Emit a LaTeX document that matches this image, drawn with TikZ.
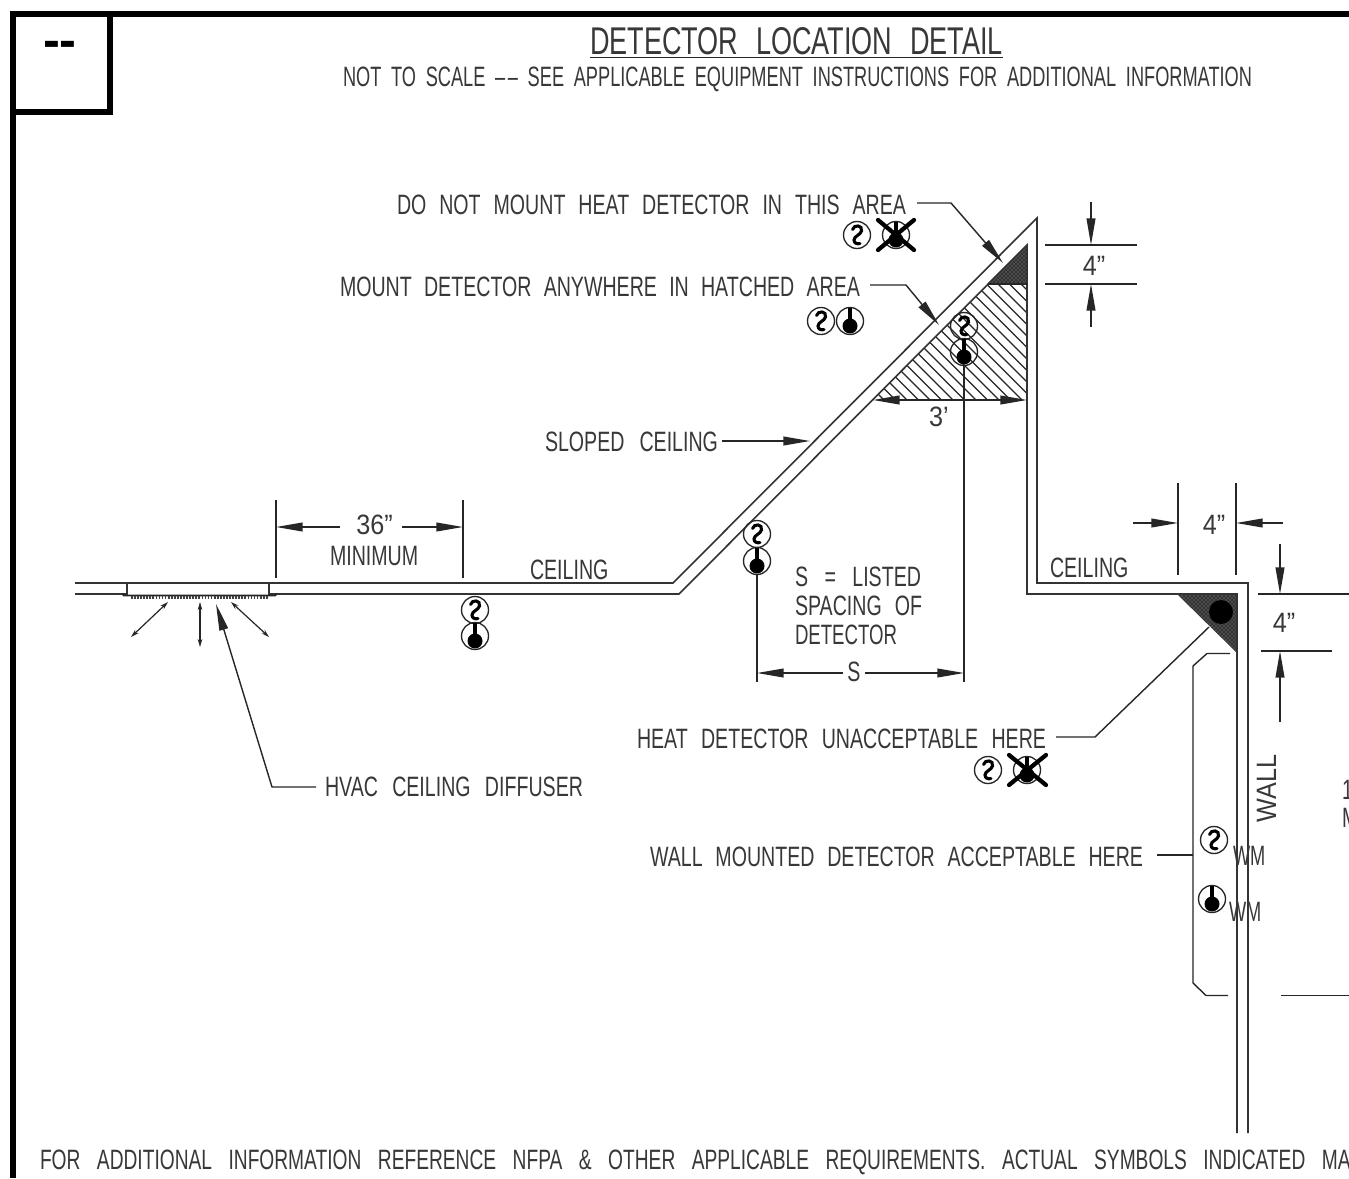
\documentclass[tikz,border=0pt]{standalone}
\usepackage{fontspec}
\setmainfont[FakeStretch=0.7]{Liberation Sans}
\newfontfamily\dashfont{Liberation Sans Bold}
\newfontfamily\numfont[FakeStretch=0.9]{Liberation Sans}
\newfontfamily\tightfont[FakeStretch=0.665]{Liberation Sans}
\newfontfamily\notefont[FakeStretch=0.685]{Liberation Sans}
\newfontfamily\subfont[FakeStretch=0.65]{Liberation Sans}
\usetikzlibrary{arrows.meta,patterns}
\definecolor{inkc}{gray}{0.22}
\definecolor{stip}{gray}{0.2}
\tikzset{
  x=0.75pt,y=-0.75pt,
  wallline/.style={line width=1.2pt,draw=black!80},
  thinline/.style={line width=1.05pt,draw=black!85},
  framed/.style={line width=3.9pt,draw=black},
  leader/.style={thinline,-{Triangle[length=20pt,width=6.6pt]}},
  dimarrow/.style={thinline,-{Triangle[length=20pt,width=6.6pt]}},
  flow/.style={line width=.9pt,draw=black!85,{Stealth[length=6pt,width=3.5pt]}-{Stealth[length=6pt,width=3.5pt]}},
  txt/.style={inner sep=0pt,outer sep=0pt,anchor=base west,text=inkc,font=\fontsize{21}{21}\selectfont},
  txtc/.style={inner sep=0pt,outer sep=0pt,anchor=base,text=inkc,font=\numfont\fontsize{21}{21}\selectfont},
  crossx/.style={line width=3.2pt,draw=black,line cap=round},
  darkarea/.style={fill=stip,postaction={pattern=crosshatch dots,pattern color=white!55!stip}},
  pics/smokedet/.style={code={
    \draw[line width=1pt,draw=black!85] (0,0) circle (13.5);
    \draw[line width=2.3pt,line cap=round] (-4.5,-5.5) .. controls (-3,-11) and (6,-10) .. (4.5,-4) .. controls (3.5,0) and (-3,1) .. (-3,5) .. controls (-3,8) and (0,9.5) .. (3,8.5);
  }},
  pics/heatdet/.style={code={
    \draw[line width=1pt,draw=black!85] (0,0) circle (13.5);
    \draw[line width=2.6pt] (0,-13) -- (0,2);
    \fill[black] (0,5) circle (7.5);
  }},
}
\newcommand{\lbl}[5]{%
  \pgfmathsetlengthmacro{\lblw}{(#3-#2)*0.75pt}%
  \node[txt] (#1) at (#2,#4-1) {\makebox[\lblw][s]{#5}};}
\begin{document}
\begin{tikzpicture}
\useasboundingbox (0,0) rectangle (1349,1178);
\fill[white] (0,0) rectangle (1349,1178);
\clip (0,0) rectangle (1349,1178);

% frame
\draw[framed] (1349,14) -- (13,14) -- (13,1178);
\draw[framed] (13,112) -- (110,112) -- (110,14);
\node[inner sep=0pt,font=\dashfont\fontsize{38}{38}\selectfont] (boxmark) at (60,49) {-{}-};

% titles
\node[txt,font=\fontsize{29}{29}\selectfont] (title) at (590,54) {\makebox[309.75pt][s]{DETECTOR LOCATION DETAIL}};
\coordinate (ulA) at (590,57.5); \coordinate (ulB) at (1003,57.5);
\draw[thinline] (ulA) -- (ulB);
\lbl{subtitle}{343}{1252}{87}{\subfont NOT TO SCALE –\kern2pt– SEE APPLICABLE EQUIPMENT INSTRUCTIONS FOR ADDITIONAL INFORMATION}

% hatch and dark areas
\begin{scope}
  \clip (988,284) -- (1027,284) -- (1027,400) -- (873,400) -- cycle;
  \foreach \c in {1021,1009.5,...,650} {
    \draw[line width=.95pt,draw=black!85] (\c,284) -- (\c+125,409);
  }
\end{scope}
\path[darkarea] (1027,245) -- (1027,284) -- (988,284) -- cycle;
\path[darkarea] (1177,594) -- (1237,594) -- (1237,653) -- cycle;
\fill[black] (1221,612) circle (12);

% ceiling / wall lines
\draw[wallline] (75,583) -- (673,583) -- (1037,218) -- (1037,583) -- (1248,583) -- (1248,1133);
\draw[wallline] (75,594) -- (127,594) -- (127,583);
\draw[wallline] (269,583) -- (269,594) -- (679,594) -- (1027,245) -- (1027,594) -- (1237,594) -- (1237,1133);
\draw[thinline] (988,284) -- (1027,284);

% diffuser
\draw[line width=1.4pt,draw=black!85] (122,593.5) -- (124,595.5) -- (275,595.5) -- (277,593.5);
\draw[line width=2.2pt,dash pattern=on 1.3pt off 1pt,draw=black!75] (131,597.5) -- (268,597.5);
\draw[flow] (168,602) -- (131,637);
\draw[flow] (200,602) -- (200,647);
\draw[flow] (231,602) -- (269,637);

% HVAC leader
\lbl{lblHvac}{325}{583}{797}{HVAC CEILING DIFFUSER}
\coordinate (hvacA) at (316,787); \coordinate (hvacB) at (272,787); \coordinate (hvacTip) at (216,604);
\draw[leader] (hvacA) -- (hvacB) -- (hvacTip);

% 36 inch dimension
\coordinate (e36a) at (276,500); \coordinate (e36b) at (276,578);
\coordinate (e36c) at (463,500); \coordinate (e36d) at (463,578);
\draw[thinline] (e36a) -- (e36b);
\draw[thinline] (e36c) -- (e36d);
\node[txtc] (t36) at (374.5,534) {36”};
\lbl{tMin}{330}{418}{566}{MINIMUM}
\coordinate (a36l) at (276,527); \coordinate (a36r) at (463,527);
\draw[dimarrow] ([xshift=-12pt]t36.west |- a36l) -- (a36l);
\draw[dimarrow] ([xshift=7pt]t36.east |- a36r) -- (a36r);

% text labels
\lbl{c1}{530}{608}{580}{CEILING}
\lbl{c2}{1050}{1128}{578}{CEILING}
\lbl{lblSlope}{545}{718}{452}{SLOPED CEILING}
\coordinate (slopeTip) at (810,441);
\draw[leader] ([xshift=3pt]lblSlope.east |- slopeTip) -- (slopeTip);
\lbl{l1}{795}{921}{587}{S = LISTED}
\lbl{l2}{795}{922}{616}{SPACING OF}
\lbl{l3}{795}{897}{645}{\tightfont DETECTOR}

% do-not-mount
\lbl{lblDo}{397}{906}{215}{DO NOT MOUNT HEAT DETECTOR IN THIS AREA}
\coordinate (doA) at (917,203); \coordinate (doB) at (951,203); \coordinate (doTip) at (1003,263);
\draw[leader] (doA) -- (doB) -- (doTip);
\pic at (857,235) {smokedet};
\pic at (896,235) {heatdet};
\draw[crossx] (878,220) -- (914,250);
\draw[crossx] (914,220) -- (878,250);

% mount anywhere
\lbl{lblMount}{340}{860}{297}{MOUNT DETECTOR ANYWHERE IN HATCHED AREA}
\coordinate (mtA) at (870,285); \coordinate (mtB) at (906,285); \coordinate (mtTip) at (939,325);
\draw[leader] (mtA) -- (mtB) -- (mtTip);
\pic at (821,321) {smokedet};
\pic at (850,321) {heatdet};

% detector pairs
\pic at (475,610) {smokedet};
\pic at (475,636) {heatdet};
\pic at (757,534) {smokedet};
\pic at (757,561) {heatdet};
\pic at (964,326) {smokedet};
\pic at (964,352) {heatdet};
\coordinate (sA) at (757,574); \coordinate (sAe) at (757,682);
\coordinate (sB) at (964,365); \coordinate (sBe) at (964,682);
\draw[thinline] (sA) -- (sAe);
\draw[thinline] (sB) -- (sBe);

% S dimension
\node[txtc,font=\fontsize{21}{21}\selectfont] (tS) at (854,681) {S};
\coordinate (sL) at (757,673); \coordinate (sR) at (964,673);
\draw[dimarrow] ([xshift=-3pt]tS.west |- sL) -- (sL);
\draw[dimarrow] ([xshift=3pt]tS.east |- sR) -- (sR);

% 3 foot dimension
\node[txtc] (t3) at (939,426) {3’};
\coordinate (d3L) at (873,400); \coordinate (d3R) at (1027,400);
\coordinate (d3M) at (950,400);
\draw[dimarrow] (d3M) -- (d3L);
\draw[dimarrow] (d3M) -- (d3R);

% upper 4 inch
\coordinate (u1a) at (1045,245); \coordinate (u1b) at (1137,245);
\coordinate (u2a) at (1045,284); \coordinate (u2b) at (1137,284);
\draw[thinline] (u1a) -- (u1b);
\draw[thinline] (u2a) -- (u2b);
\node[txtc] (t4a) at (1094,275) {4”};
\coordinate (u3) at (1091,202); \coordinate (u3t) at (1091,245);
\coordinate (u4) at (1091,327); \coordinate (u4t) at (1091,284);
\draw[dimarrow] (u3) -- (u3t);
\draw[dimarrow] (u4) -- (u4t);

% horizontal 4 inch at corner
\coordinate (h1a) at (1178,483); \coordinate (h1b) at (1178,575);
\coordinate (h2a) at (1236,483); \coordinate (h2b) at (1236,575);
\draw[thinline] (h1a) -- (h1b);
\draw[thinline] (h2a) -- (h2b);
\node[txtc] (t4b) at (1214,534) {4”};
\coordinate (h3) at (1133,523); \coordinate (h3t) at (1178,523);
\coordinate (h4) at (1283,523); \coordinate (h4t) at (1236,523);
\draw[dimarrow] (h3) -- (h3t);
\draw[dimarrow] (h4) -- (h4t);

% vertical 4 inch at corner
\coordinate (v1a) at (1258,594); \coordinate (v1b) at (1349,594);
\coordinate (v2a) at (1261,651); \coordinate (v2b) at (1332,651);
\draw[thinline] (v1a) -- (v1b);
\draw[thinline] (v2a) -- (v2b);
\node[txtc] (t4c) at (1284,632) {4”};
\coordinate (v3) at (1280,544); \coordinate (v3t) at (1280,594);
\coordinate (v4) at (1280,722); \coordinate (v4t) at (1280,651);
\draw[dimarrow] (v3) -- (v3t);
\draw[dimarrow] (v4) -- (v4t);

% heat unacceptable
\lbl{lblUn}{637}{1046}{749}{HEAT DETECTOR UNACCEPTABLE HERE}
\coordinate (unA) at (1056,737); \coordinate (unB) at (1095,737); \coordinate (unC) at (1209,627);
\draw[thinline] (unA) -- (unB) -- (unC);
\pic at (988,770) {smokedet};
\pic at (1027,770) {heatdet};
\draw[crossx] (1009,755) -- (1046,785);
\draw[crossx] (1046,755) -- (1009,785);

% wall mounted
\lbl{lblWall}{650}{1143}{867}{WALL MOUNTED DETECTOR ACCEPTABLE HERE}
\coordinate (wmA) at (1157,855); \coordinate (wmB) at (1193,855);
\draw[thinline] (wmA) -- (wmB);
\coordinate (b1) at (1230,653.5); \coordinate (b2) at (1207,653.5); \coordinate (b3) at (1193,666);
\coordinate (b4) at (1193,983); \coordinate (b5) at (1206,995.5); \coordinate (b6) at (1228,995.5);
\draw[thinline] (b1) -- (b2) -- (b3) -- (b4) -- (b5) -- (b6);
\coordinate (b7) at (1281,995.5); \coordinate (b8) at (1349,995.5);
\draw[thinline] (b7) -- (b8);
\pic at (1214,840) {smokedet};
\pic at (1212,899) {heatdet};
\lbl{wm1}{1233}{1264}{866}{\subfont WM}
\lbl{wm2}{1229}{1260}{922}{\subfont WM}
\node[txtc,rotate=90] (wallT) at (1276,788.5) {WALL};

% clipped text at right edge
\node[txt] (cut1) at (1342,799) {1};
\node[txt] (cut2) at (1342,827) {M};

% bottom note
\lbl{note}{40}{1362}{1170}{\notefont FOR ADDITIONAL INFORMATION REFERENCE NFPA \& OTHER APPLICABLE REQUIREMENTS. ACTUAL SYMBOLS INDICATED MAY}
\end{tikzpicture}
\end{document}
